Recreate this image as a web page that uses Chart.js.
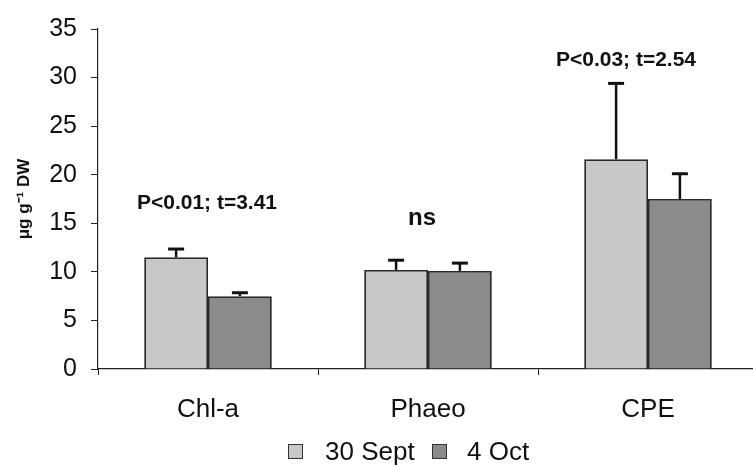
<!DOCTYPE html>
<html><head><meta charset="utf-8">
<script src="https://cdn.jsdelivr.net/npm/chart.js@4.4.0/dist/chart.umd.min.js"></script>
<style>
html,body{margin:0;padding:0;background:#fff;overflow:hidden;width:753px;height:468px;position:relative;}
#wrap{position:absolute;left:0;top:0;width:765px;height:468px;}
#legend{position:absolute;left:0;top:0;width:753px;height:468px;pointer-events:none;font-family:"Liberation Sans",Arial,sans-serif;color:#111;}
#legend .box{position:absolute;width:13px;height:13px;border:1.5px solid #333;}
#legend .txt{position:absolute;font-size:26px;line-height:30px;white-space:nowrap;}
</style></head><body>
<div id="wrap"><canvas id="c" width="765" height="468"></canvas></div>
<div id="legend"></div>
<script>
// ---- data ----
const categories = ['Chl-a', 'Phaeo', 'CPE'];
const seriesNames = ['30 Sept', '4 Oct'];
const sept = [11.5, 10.2, 21.6];
const oct = [7.5, 10.1, 17.5];
const septErr = [0.85, 1.0, 7.8];
const octErr = [0.35, 0.8, 2.6];
const yTickValues = [0, 5, 10, 15, 20, 25, 30, 35];
const annotationTexts = ['P<0.01; t=3.41', 'ns', 'P<0.03; t=2.54'];

const colors = ['#c8c8c8', '#8b8b8b'];
const FONT = '"Liberation Sans", Arial, sans-serif';

const errorBars = {
  id: 'errorBars',
  afterDatasetsDraw(chart) {
    const ctx = chart.ctx, y = chart.scales.y;
    chart.data.datasets.forEach((ds, i) => {
      const meta = chart.getDatasetMeta(i);
      meta.data.forEach((bar, j) => {
        const v = ds.data[j], e = ds.errors[j];
        const yb = y.getPixelForValue(v), yt = y.getPixelForValue(v + e);
        ctx.save();
        ctx.strokeStyle = '#111';
        ctx.lineWidth = 2.5;
        ctx.beginPath();
        ctx.moveTo(bar.x, yb); ctx.lineTo(bar.x, yt);
        ctx.stroke();
        ctx.lineWidth = 3;
        ctx.beginPath();
        ctx.moveTo(bar.x - 8, yt); ctx.lineTo(bar.x + 8, yt);
        ctx.stroke();
        ctx.restore();
      });
    });
  }
};

const annot = {
  id: 'annot',
  afterDraw(chart, args, opts) {
    const ctx = chart.ctx, x = chart.scales.x, y = chart.scales.y;
    annotationTexts.forEach((t, i) => {
      ctx.save();
      ctx.fillStyle = '#111';
      ctx.font = 'bold ' + opts.sizes[i] + 'px ' + FONT;
      ctx.textAlign = 'center';
      ctx.textBaseline = 'middle';
      ctx.fillText(t, x.getPixelForValue(i) + opts.dx[i], y.getPixelForValue(opts.yv[i]));
      ctx.restore();
    });
  }
};

const chart = new Chart(document.getElementById('c'), {
  type: 'bar',
  data: {
    labels: categories,
    datasets: [
      { label: seriesNames[0], data: sept, errors: septErr, backgroundColor: colors[0], borderColor: '#2a2a2a', borderWidth: 1.8, barPercentage: 1.0, categoryPercentage: 0.58 },
      { label: seriesNames[1], data: oct, errors: octErr, backgroundColor: colors[1], borderColor: '#2a2a2a', borderWidth: 1.8, barPercentage: 1.0, categoryPercentage: 0.58 }
    ]
  },
  options: {
    responsive: false,
    animation: false,
    layout: { padding: { top: 23, right: 7, left: 0, bottom: 0 } },
    plugins: {
      legend: { display: false },
      tooltip: { enabled: false },
      annot: { dx: [-1, -6, -22], yv: [17.1, 15.5, 31.8], sizes: [21, 24, 21] }
    },
    scales: {
      x: {
        afterFit(s) { s.height = 99; },
        grid: { display: true, drawOnChartArea: false, drawTicks: true, tickLength: 6, color: '#222', offset: true },
        border: { display: true, color: '#222', width: 1.2 },
        ticks: { color: '#111', font: { family: FONT, size: 26 }, padding: 19 }
      },
      y: {
        min: 0, max: 35,
        afterFit(s) { s.width = 98; },
        afterBuildTicks(s) { s.ticks = yTickValues.map(v => ({ value: v })); },
        grid: { display: true, drawOnChartArea: false, drawTicks: true, tickLength: 7, color: '#222' },
        border: { display: true, color: '#222', width: 1.2 },
        ticks: { color: '#111', font: { family: FONT, size: 25 }, padding: 14 },
        title: { display: true, text: 'μg g⁻¹ DW', color: '#111', font: { family: FONT, size: 17, weight: 'bold' }, padding: { top: 14, bottom: 0 } }
      }
    }
  },
  plugins: [errorBars, annot]
});

// legend (HTML, from the series names and colours)
const lg = document.getElementById('legend');
const boxX = [288, 432], txtX = [325, 467];
seriesNames.forEach((n, i) => {
  const b = document.createElement('div');
  b.className = 'box'; b.style.left = boxX[i] + 'px'; b.style.top = '444px';
  b.style.background = colors[i];
  lg.appendChild(b);
  const t = document.createElement('div');
  t.className = 'txt'; t.style.left = txtX[i] + 'px'; t.style.top = '436px';
  t.textContent = n;
  lg.appendChild(t);
});
</script>
</body></html>
